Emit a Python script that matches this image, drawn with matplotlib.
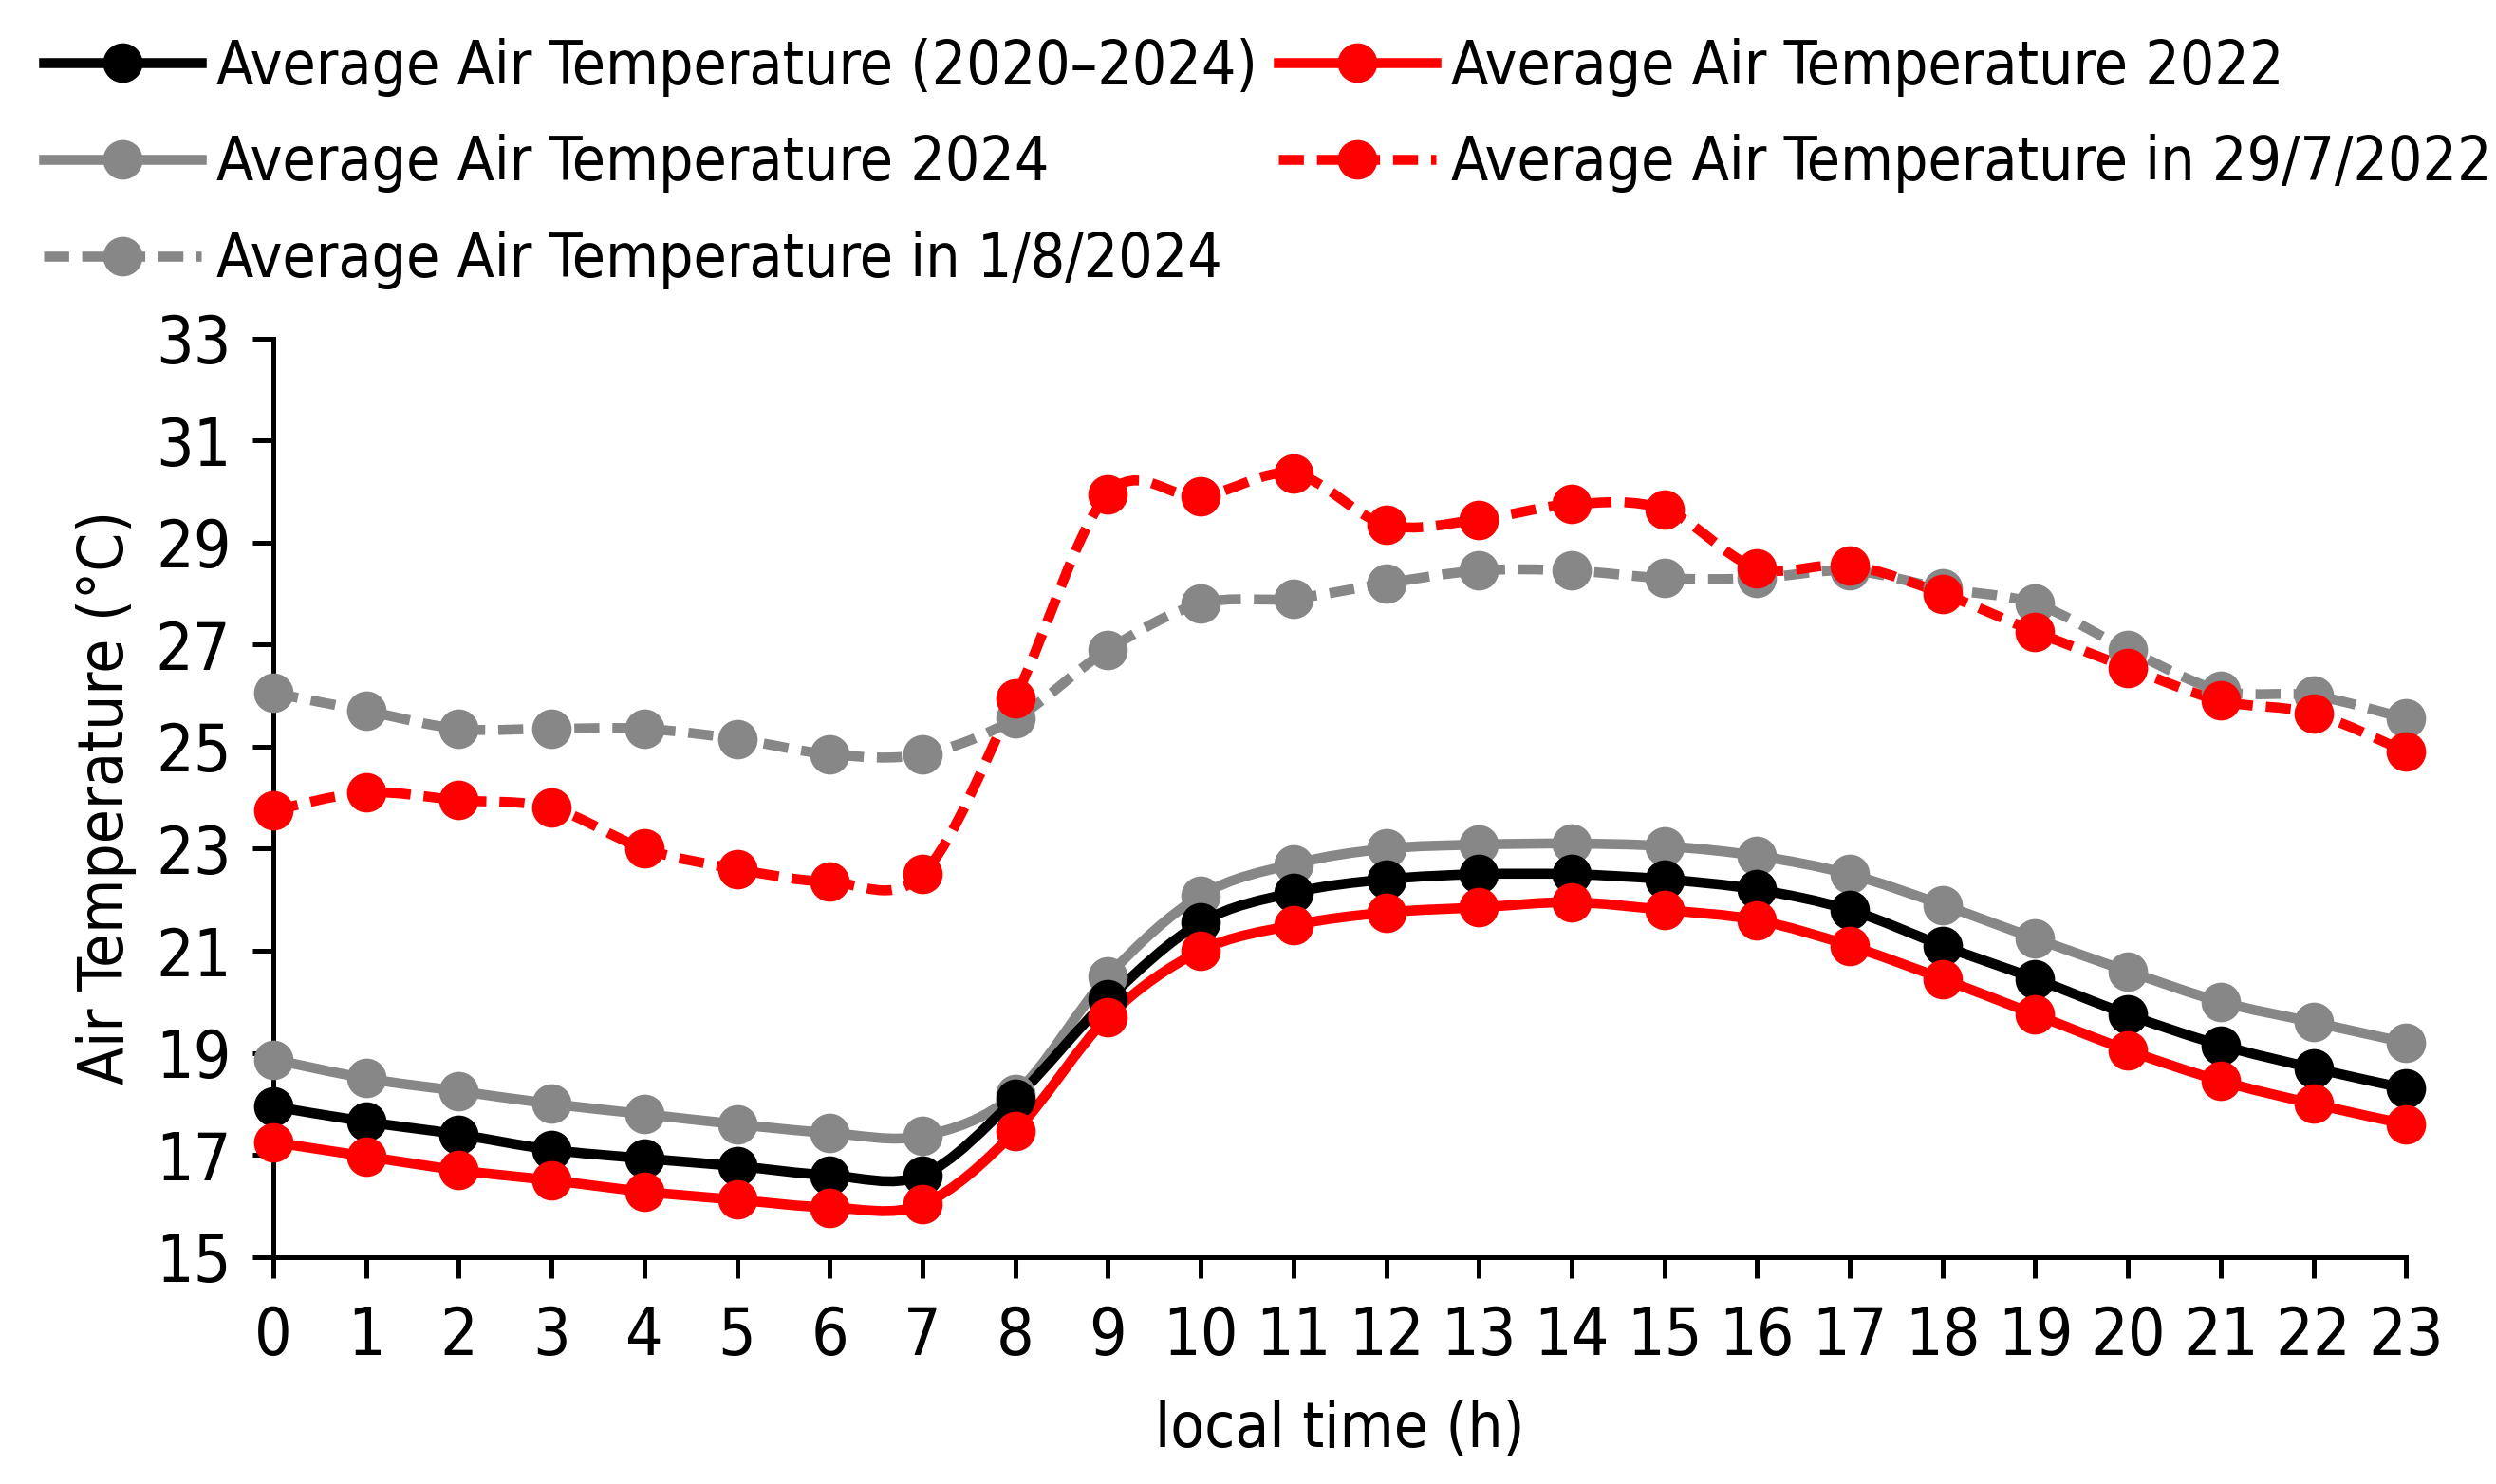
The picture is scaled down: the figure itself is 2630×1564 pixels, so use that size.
import numpy as np
import matplotlib
matplotlib.use('Agg')
import matplotlib.pyplot as plt
from matplotlib.path import Path
from matplotlib.patches import PathPatch
from matplotlib.lines import Line2D

plt.rcParams['font.family'] = ['DejaVu Sans']
plt.rcParams['font.stretch'] = 'condensed'
plt.rcParams['font.size'] = 23

hours = list(range(24))

avg_2020_2024 = [17.95, 17.65, 17.4, 17.1, 16.93, 16.78, 16.6, 16.6, 18.1, 20.05, 21.55, 22.14,
                 22.4, 22.5, 22.5, 22.4, 22.2, 21.8, 21.1, 20.45, 19.75, 19.15, 18.7, 18.3]
avg_2022 = [17.25, 16.97, 16.7, 16.5, 16.28, 16.12, 15.97, 16.03, 17.46, 19.7, 21.0, 21.5,
            21.75, 21.85, 21.95, 21.8, 21.6, 21.1, 20.45, 19.75, 19.05, 18.45, 18.0, 17.6]
avg_2024 = [18.87, 18.5, 18.25, 18.0, 17.8, 17.6, 17.43, 17.37, 18.2, 20.5, 22.08, 22.7,
            23.0, 23.08, 23.1, 23.05, 22.86, 22.5, 21.9, 21.24, 20.6, 20.0, 19.6, 19.2]
day_29_7_2022 = [23.75, 24.1, 23.95, 23.8, 23.0, 22.6, 22.35, 22.5, 25.95, 29.95, 29.9, 30.35,
                 29.35, 29.45, 29.75, 29.65, 28.5, 28.55, 28.0, 27.25, 26.55, 25.9, 25.65, 24.9]
day_1_8_2024 = [26.05, 25.7, 25.35, 25.35, 25.35, 25.15, 24.85, 24.85, 25.55, 26.9, 27.8, 27.9,
                28.2, 28.45, 28.45, 28.3, 28.3, 28.45, 28.1, 27.8, 26.9, 26.1, 26.0, 25.55]

labels = ['Average Air Temperature (2020\u20132024)', 'Average Air Temperature 2022',
          'Average Air Temperature 2024', 'Average Air Temperature in 29/7/2022',
          'Average Air Temperature in 1/8/2024']

RED = '#FF0000'
GREY = '#878787'


def smooth_path(x, y):
    # Excel-like smoothed line: cubic bezier through each point
    x = np.asarray(x, float)
    y = np.asarray(y, float)
    verts = [(x[0], y[0])]
    codes = [Path.MOVETO]
    n = len(x)
    for i in range(n - 1):
        p0 = np.array([x[max(i - 1, 0)], y[max(i - 1, 0)]])
        p1 = np.array([x[i], y[i]])
        p2 = np.array([x[i + 1], y[i + 1]])
        p3 = np.array([x[min(i + 2, n - 1)], y[min(i + 2, n - 1)]])
        c1 = p1 + (p2 - p0) / 6.0
        c2 = p2 - (p3 - p1) / 6.0
        verts += [tuple(c1), tuple(c2), tuple(p2)]
        codes += [Path.CURVE4] * 3
    return Path(verts, codes)


fig = plt.figure(figsize=(13.15, 7.82), dpi=200)
ax = fig.add_axes([0.1095, 0.153, 0.8545, 0.619])

series = [
    (avg_2024, GREY, '-', labels[2]),
    (day_1_8_2024, GREY, '--', labels[4]),
    (day_29_7_2022, RED, '--', labels[3]),
    (avg_2020_2024, 'black', '-', labels[0]),
    (avg_2022, RED, '-', labels[1]),
]
handles = {}
for vals, col, ls, lab in series:
    dash = (0, (2.5, 1.3)) if ls == '--' else '-'
    patch = PathPatch(smooth_path(hours, vals), facecolor='none', edgecolor=col,
                      lw=3.8, linestyle=dash, capstyle='butt', zorder=2)
    ax.add_patch(patch)
    ax.plot(hours, vals, 'o', color=col, ms=14, zorder=3, clip_on=False)
    handles[lab] = Line2D([], [], color=col, lw=3.8, linestyle=dash, marker='o', ms=14)

ax.set_xlim(0, 23)
ax.set_ylim(15, 33)
ax.set_xticks(hours)
ax.set_yticks(range(15, 34, 2))
for s in ['top', 'right']:
    ax.spines[s].set_visible(False)
for s in ['left', 'bottom']:
    ax.spines[s].set_linewidth(1.8)
ax.tick_params(axis='both', direction='out', length=8, width=1.8, labelsize=25)
ax.tick_params(axis='x', pad=10)
ax.tick_params(axis='y', pad=8)
ax.set_xlabel('local time (h)', fontsize=23.5, labelpad=12)
ax.set_ylabel('Air Temperature (\u00b0C)', fontsize=23.5, labelpad=7)

order = [labels[0], labels[2], labels[4], labels[1], labels[3]]
fig.legend([handles[l] for l in order], order, ncol=2, loc='upper left',
           bbox_to_anchor=(0.004, 0.997), frameon=False, fontsize=23,
           handlelength=2.6, handletextpad=0.25, columnspacing=0.35, labelspacing=0.62,
           borderaxespad=0.15)

fig.savefig('out.png', dpi=200)
